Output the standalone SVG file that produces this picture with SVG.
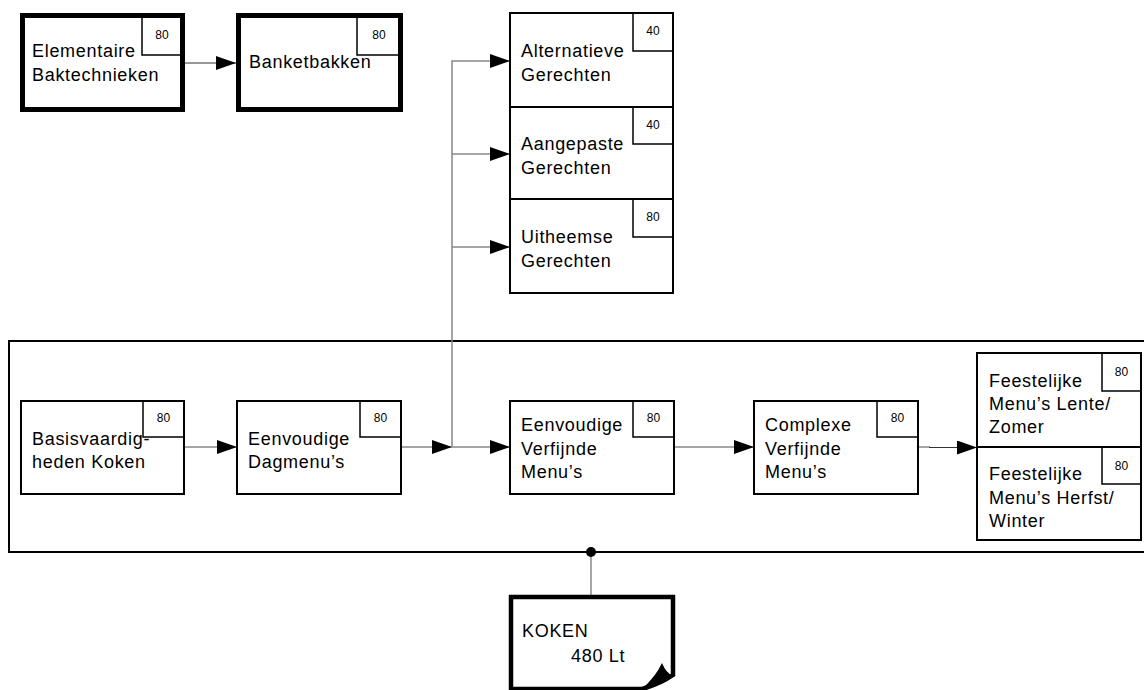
<svg xmlns="http://www.w3.org/2000/svg" width="1144" height="690" viewBox="0 0 1144 690">
<style>
.box{fill:#fff;stroke:#000;stroke-width:2}
.thick{fill:#fff;stroke:#000;stroke-width:5}
.nb{fill:none;stroke:#000;stroke-width:1.5}
.t{font-family:"Liberation Sans",Arial,sans-serif;font-size:18px;letter-spacing:0.7px;fill:#000}
.n{font-family:"Liberation Sans",Arial,sans-serif;font-size:12px;fill:#000;text-anchor:middle}
.c{fill:none;stroke:#888;stroke-width:1.5}
.cd{fill:none;stroke:#333;stroke-width:1.2}
</style>
<defs>
<marker id="arr" markerUnits="userSpaceOnUse" markerWidth="20" markerHeight="14" refX="20" refY="7" orient="auto">
<path d="M0,0 L20,7 L0,14 Z" fill="#000"/>
</marker>
</defs>
<rect width="1144" height="690" fill="#fff"/>
<g id="container">
<rect x="9" y="341" width="1160" height="211" fill="none" stroke="#000" stroke-width="2"/>
</g>
<g id="connectors">
<path class="cd" d="M185,63 H236" marker-end="url(#arr)"/>
<path class="c" d="M184,447 H237" marker-end="url(#arr)"/>
<path class="c" d="M401,447 H452" marker-end="url(#arr)"/>
<path class="c" d="M452,447 H510" marker-end="url(#arr)"/>
<path class="c" d="M452,447 V61 H510" marker-end="url(#arr)"/>
<path class="c" d="M452,154 H510" marker-end="url(#arr)"/>
<path class="c" d="M452,247 H510" marker-end="url(#arr)"/>
<path class="c" d="M674,447 H754" marker-end="url(#arr)"/>
<path class="c" d="M918,447 H930"/>
<path class="cd" d="M929,447.5 H977" marker-end="url(#arr)"/>
<path class="c" d="M591,552 V596"/>
<circle cx="591" cy="552" r="5" fill="#000"/>
</g>
<g id="elementaire">
<rect class="thick" x="22.5" y="15.5" width="160" height="94"/>
<path class="nb" d="M142,15.5 V55 H182.5"/>
<text class="n" x="162" y="39">80</text>
<text class="t" x="32" y="57">Elementaire</text>
<text class="t" x="32" y="81">Baktechnieken</text>
</g>
<g id="banketbakken">
<rect class="thick" x="238.5" y="15.5" width="162" height="94"/>
<path class="nb" d="M357,15.5 V55 H400.5"/>
<text class="n" x="379" y="39">80</text>
<text class="t" x="249" y="68">Banketbakken</text>
</g>
<g id="alternatieve">
<rect class="box" x="510" y="13" width="163" height="94"/>
<path class="nb" d="M633,13 V51 H673"/>
<text class="n" x="653" y="35">40</text>
<text class="t" x="521" y="57">Alternatieve</text>
<text class="t" x="521" y="81">Gerechten</text>
</g>
<g id="aangepaste">
<rect class="box" x="510" y="107" width="163" height="92"/>
<path class="nb" d="M633,107 V144 H673"/>
<text class="n" x="653" y="129">40</text>
<text class="t" x="521" y="150">Aangepaste</text>
<text class="t" x="521" y="174">Gerechten</text>
</g>
<g id="uitheemse">
<rect class="box" x="510" y="199" width="163" height="94"/>
<path class="nb" d="M633,199 V237 H673"/>
<text class="n" x="653" y="221">80</text>
<text class="t" x="521" y="243">Uitheemse</text>
<text class="t" x="521" y="267">Gerechten</text>
</g>
<g id="basisvaardigheden">
<rect class="box" x="21" y="401" width="163" height="93"/>
<path class="nb" d="M143,401 V437 H184"/>
<text class="n" x="163.5" y="422">80</text>
<text class="t" x="32" y="445">Basisvaardig-</text>
<text class="t" x="32" y="468">heden Koken</text>
</g>
<g id="dagmenus">
<rect class="box" x="237" y="401" width="164" height="93"/>
<path class="nb" d="M360,401 V437 H401"/>
<text class="n" x="380.5" y="422">80</text>
<text class="t" x="248" y="445">Eenvoudige</text>
<text class="t" x="248" y="468">Dagmenu’s</text>
</g>
<g id="eenvoudige-verfijnde">
<rect class="box" x="510" y="401" width="164" height="93"/>
<path class="nb" d="M633,401 V437 H674"/>
<text class="n" x="653.5" y="422">80</text>
<text class="t" x="521" y="431">Eenvoudige</text>
<text class="t" x="521" y="455">Verfijnde</text>
<text class="t" x="521" y="478">Menu’s</text>
</g>
<g id="complexe-verfijnde">
<rect class="box" x="754" y="401" width="164" height="93"/>
<path class="nb" d="M877,401 V437 H918"/>
<text class="n" x="897.5" y="422">80</text>
<text class="t" x="765" y="431">Complexe</text>
<text class="t" x="765" y="455">Verfijnde</text>
<text class="t" x="765" y="478">Menu’s</text>
</g>
<g id="feestelijke-lente">
<rect class="box" x="977" y="353" width="164" height="94"/>
<path class="nb" d="M1102,353 V391 H1141"/>
<text class="n" x="1121.5" y="376">80</text>
<text class="t" x="989" y="387">Feestelijke</text>
<text class="t" x="989" y="410">Menu’s Lente/</text>
<text class="t" x="989" y="433">Zomer</text>
</g>
<g id="feestelijke-herfst">
<rect class="box" x="977" y="447" width="164" height="93"/>
<path class="nb" d="M1102,447 V484 H1141"/>
<text class="n" x="1121.5" y="470">80</text>
<text class="t" x="989" y="480">Feestelijke</text>
<text class="t" x="989" y="504">Menu’s Herfst/</text>
<text class="t" x="989" y="527">Winter</text>
</g>
<g id="koken">
<path d="M511,597 H673 V675 Q660,684 642,689 H511 Z" fill="#fff" stroke="#000" stroke-width="4.5" stroke-linejoin="miter"/>
<path d="M642,689 Q656,676 662,663 Q666,673 673,676 Q660,684 642,689 Z" fill="#000"/>
<text class="t" x="522" y="637">KOKEN</text>
<text class="t" x="571" y="662">480 Lt</text>
</g>
</svg>
